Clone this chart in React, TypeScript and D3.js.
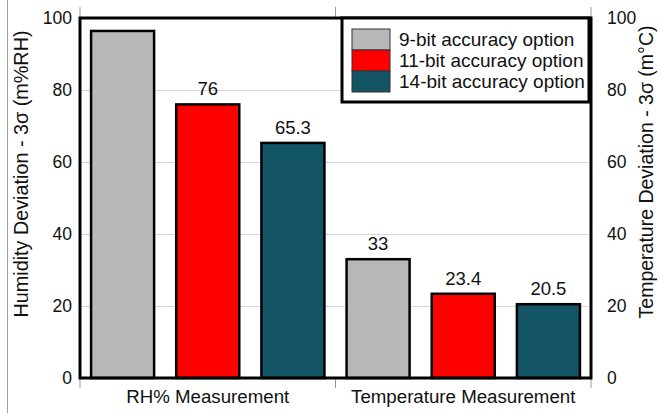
import { useEffect, useRef } from 'react';
import * as d3 from 'd3';

const categories = ['RH% Measurement', 'Temperature Measurement'];
const series = ['9-bit accuracy option', '11-bit accuracy option', '14-bit accuracy option'];
const colors = ['#b8b8b8', '#ff0000', '#135565'];
const rhValues = [96.4, 76, 65.3];
const tempValues = [33, 23.4, 20.5];
const rhLabels = ['', '76', '65.3'];
const tempLabels = ['33', '23.4', '20.5'];
const yTicks = [0, 20, 40, 60, 80, 100];

const W = 660;
const H = 413;
const font = '"Liberation Sans", Arial, sans-serif';

export default function App() {
  const svgRef = useRef<SVGSVGElement>(null);

  useEffect(() => {
    const svg = d3.select(svgRef.current);
    svg.selectAll('*').remove();

    const left = 80, right = 591, top = 18, bottom = 378;

    const x0 = d3.scaleBand<string>().domain(categories).range([left, right]).padding(0);
    const x1 = d3.scaleBand<string>().domain(series).range([0, x0.bandwidth()])
      .paddingInner(0.26).paddingOuter(0.13);
    const y = d3.scaleLinear().domain([0, 100]).range([bottom, top]);

    // outer image border line
    svg.append('line').attr('x1', 7.5).attr('x2', 7.5).attr('y1', 0).attr('y2', H)
      .attr('stroke', '#a0a0a0').attr('stroke-width', 1);

    // grid
    svg.append('g').selectAll('line').data(yTicks.filter(t => t > 0 && t < 100)).join('line')
      .attr('x1', left).attr('x2', right)
      .attr('y1', d => y(d) + 0.5).attr('y2', d => y(d) + 0.5)
      .attr('stroke', '#d9d9d9').attr('stroke-width', 1);

    // category boundary ticks, above and below the frame
    const bounds = [left, left + x0.bandwidth(), right];
    const tickG = svg.append('g');
    tickG.selectAll('line.t').data(bounds).join('line').attr('class', 't')
      .attr('x1', d => d).attr('x2', d => d)
      .attr('y1', top - 11).attr('y2', top)
      .attr('stroke', '#999').attr('stroke-width', 1);
    tickG.selectAll('line.b').data(bounds).join('line').attr('class', 'b')
      .attr('x1', d => d).attr('x2', d => d)
      .attr('y1', bottom).attr('y2', bottom + 10)
      .attr('stroke', '#999').attr('stroke-width', 1);

    const data = [
      { cat: categories[0], values: rhValues, labels: rhLabels },
      { cat: categories[1], values: tempValues, labels: tempLabels },
    ];

    const groups = svg.append('g').selectAll('g').data(data).join('g')
      .attr('transform', d => `translate(${x0(d.cat)},0)`);

    groups.selectAll('rect')
      .data(d => d.values.map((v, i) => ({ v, i, s: series[i] })))
      .join('rect')
      .attr('x', d => x1(d.s)!)
      .attr('y', d => y(d.v))
      .attr('width', x1.bandwidth())
      .attr('height', d => bottom - y(d.v))
      .attr('fill', d => colors[d.i])
      .attr('stroke', '#000').attr('stroke-width', 2.5);

    groups.selectAll('text')
      .data(d => d.values.map((v, i) => ({ v, i, s: series[i], label: d.labels[i] })))
      .join('text')
      .attr('x', d => x1(d.s)! + x1.bandwidth() / 2)
      .attr('y', d => y(d.v) - 9)
      .attr('text-anchor', 'middle')
      .attr('font-family', font).attr('font-size', 18.5)
      .attr('fill', '#111')
      .text(d => d.label);

    // frame
    svg.append('rect').attr('x', left).attr('y', top)
      .attr('width', right - left).attr('height', bottom - top)
      .attr('fill', 'none').attr('stroke', '#000').attr('stroke-width', 3);

    // y tick labels
    svg.append('g').selectAll('text').data(yTicks).join('text')
      .attr('x', left - 8).attr('y', d => y(d) + 6)
      .attr('text-anchor', 'end')
      .attr('font-family', font).attr('font-size', 17.5).attr('fill', '#111')
      .text(d => d);
    svg.append('g').selectAll('text').data(yTicks).join('text')
      .attr('x', right + 16).attr('y', d => y(d) + 6)
      .attr('text-anchor', 'start')
      .attr('font-family', font).attr('font-size', 17.5).attr('fill', '#111')
      .text(d => d);

    // category labels
    svg.append('g').selectAll('text').data(categories).join('text')
      .attr('x', d => x0(d)! + x0.bandwidth() / 2)
      .attr('y', 403)
      .attr('text-anchor', 'middle')
      .attr('font-family', font).attr('font-size', 18.7).attr('fill', '#111')
      .text(d => d);

    // axis titles
    svg.append('text')
      .attr('transform', 'translate(28,174) rotate(-90)')
      .attr('text-anchor', 'middle')
      .attr('font-family', font).attr('font-size', 19.8).attr('fill', '#111')
      .text('Humidity Deviation - 3σ (m%RH)');
    svg.append('text')
      .attr('transform', 'translate(653,172) rotate(-90)')
      .attr('text-anchor', 'middle')
      .attr('font-family', font).attr('font-size', 19.5).attr('fill', '#111')
      .text('Temperature Deviation - 3σ (m°C)');

    // legend
    const lg = svg.append('g');
    lg.append('rect').attr('x', 342).attr('y', top).attr('width', 247).attr('height', 84)
      .attr('fill', '#fff').attr('stroke', '#000').attr('stroke-width', 3);
    const rowH = 21;
    const rows = lg.selectAll('g.row').data(series).join('g').attr('class', 'row')
      .attr('transform', (_d, i) => `translate(352,${29 + i * rowH})`);
    rows.append('rect').attr('width', 38).attr('height', rowH)
      .attr('fill', (_d, i) => colors[i]).attr('stroke', '#333').attr('stroke-width', 1);
    rows.append('text').attr('x', 47).attr('y', rowH / 2 + 6.5)
      .attr('font-family', font).attr('font-size', 19).attr('fill', '#111')
      .text(d => d);
  }, []);

  return (
    <svg ref={svgRef} width={W} height={H}
      style={{ position: 'absolute', left: 0, top: 0, background: '#fff' }} />
  );
}
